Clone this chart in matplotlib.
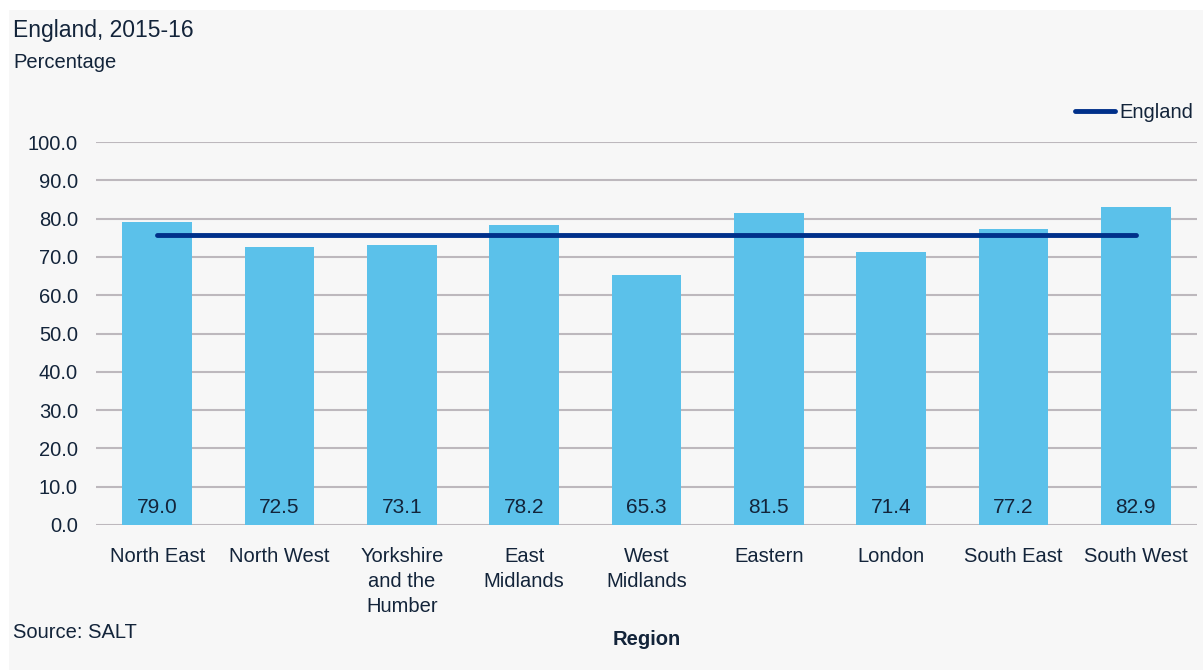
import matplotlib.pyplot as plt
import numpy as np
from matplotlib.patches import Rectangle

plt.rcParams["font.family"] = ["Liberation Sans", "DejaVu Sans"]

# Data
regions = ["North East", "North West", "Yorkshire\nand the\nHumber", "East\nMidlands",
           "West\nMidlands", "Eastern", "London", "South East", "South West"]
values = [79.0, 72.5, 73.1, 78.2, 65.3, 81.5, 71.4, 77.2, 82.9]
england = [75.6] * len(regions)
y_ticks = [0, 10, 20, 30, 40, 50, 60, 70, 80, 90, 100]

text_col = "#13243a"
bar_col = "#5bc1ea"
line_col = "#00308a"
bg_col = "#f7f7f7"

fig = plt.figure(figsize=(12.03, 6.70), dpi=100)
fig.patch.set_facecolor("white")
fig.add_artist(Rectangle((9 / 1203, 0), 1 - 9 / 1203, 1 - 10 / 670,
                         transform=fig.transFigure, facecolor=bg_col,
                         edgecolor="none", zorder=-10))

ax = fig.add_axes([96 / 1203, 1 - 525 / 670, (1197 - 96) / 1203, (525 - 142) / 670])
ax.set_facecolor("none")

x = np.arange(len(regions))
ax.bar(x, values, width=0.57, color=bar_col, zorder=2)
ax.plot(x, england, color=line_col, linewidth=3.5, solid_capstyle="round",
        label="England", zorder=3)

for xi, v in zip(x, values):
    ax.text(xi, 4.5, f"{v:.1f}", ha="center", va="center", fontsize=15,
            color=text_col, zorder=4)

ax.set_xlim(-0.5, len(regions) - 0.5)
ax.set_ylim(0, 100)
ax.set_yticks(y_ticks)
ax.set_yticklabels([f"{t:.1f}" for t in y_ticks])
ax.set_xticks(x)
ax.set_xticklabels(regions, linespacing=1.4)
ax.tick_params(axis="both", length=0, labelsize=14.5, colors=text_col)
ax.tick_params(axis="y", pad=13)
ax.tick_params(axis="x", pad=15.5)
ax.grid(axis="y", color="#bdb8bd", linewidth=1.5, zorder=0)
ax.set_axisbelow(True)
for s in ax.spines.values():
    s.set_visible(False)

ax.set_xlabel("Region", fontsize=14.5, fontweight="bold", color=text_col)
ax.xaxis.set_label_coords(0.5, -0.275)

leg = ax.legend(loc="lower right", bbox_to_anchor=(1.004, 1.03), frameon=False,
                fontsize=14.5, handlelength=2.0, handletextpad=0.2, borderaxespad=0)
for t in leg.get_texts():
    t.set_color(text_col)

fig.text(13 / 1203, 1 - 31 / 670, "England, 2015-16", fontsize=16.5, color=text_col,
         va="center", ha="left")
fig.text(13 / 1203, 1 - 63 / 670, "Percentage", fontsize=14.5, color=text_col,
         va="center", ha="left")
fig.text(13 / 1203, 1 - 633 / 670, "Source: SALT", fontsize=14.5, color=text_col,
         va="center", ha="left")

fig.savefig("out.png", dpi=100, facecolor=fig.get_facecolor())
